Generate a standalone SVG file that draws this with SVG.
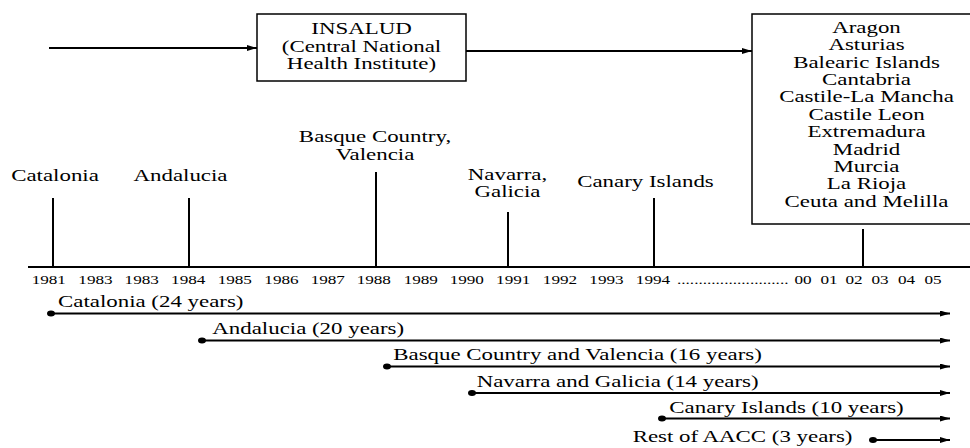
<svg xmlns="http://www.w3.org/2000/svg" width="970" height="448" viewBox="0 0 970 448">
<defs>
<style>
text{font-family:"Liberation Serif","Times New Roman",serif;fill:#000}
.t16{font-size:16px}
.t12{font-size:12px}
.m{text-anchor:middle}
.box{fill:#fff;stroke:#000;stroke-width:1.5}
.ln{stroke:#000;stroke-width:2;fill:none}
.ar{stroke:#000;stroke-width:2;fill:none;marker-end:url(#ah)}
</style>
<marker id="ah" markerUnits="userSpaceOnUse" markerWidth="10" markerHeight="7" refX="10" refY="3" orient="auto">
<path d="M0,0 L10,3 L0,6 Z" fill="#000"/>
</marker>
</defs>
<rect width="970" height="448" fill="#fff"/>

<g id="connectors">
<line class="ar" x1="49" y1="48" x2="257" y2="48"/>
<line class="ar" x1="466" y1="51" x2="752" y2="51"/>
<line class="ar" x1="51" y1="313.5" x2="950" y2="313.5"/>
<line class="ar" x1="202" y1="340.5" x2="950" y2="340.5"/>
<line class="ar" x1="387" y1="366.5" x2="950" y2="366.5"/>
<line class="ar" x1="472" y1="393" x2="950" y2="393"/>
<line class="ar" x1="662" y1="418.5" x2="950" y2="418.5"/>
<line class="ar" x1="873" y1="440" x2="950" y2="440"/>
<g fill="#000">
<ellipse cx="51" cy="313.5" rx="4" ry="3"/>
<ellipse cx="202" cy="340.5" rx="4" ry="3"/>
<ellipse cx="387" cy="366.5" rx="4" ry="3"/>
<ellipse cx="472" cy="393" rx="4" ry="3"/>
<ellipse cx="662" cy="418.5" rx="4" ry="3"/>
<ellipse cx="873" cy="440" rx="4" ry="3"/>
</g>
</g>

<g id="insalud">
<rect class="box" x="257" y="14" width="209" height="67"/>
<text class="t16 m" transform="translate(361.5,34.3) scale(1.43,1)">INSALUD</text>
<text class="t16 m" transform="translate(361.5,51.7) scale(1.43,1)">(Central National</text>
<text class="t16 m" transform="translate(361.5,69) scale(1.43,1)">Health Institute)</text>
</g>

<g id="rest-regions">
<rect class="box" x="752" y="14" width="230" height="210"/>
<g class="t16 m">
<text class="t16 m" transform="translate(866.5,33) scale(1.43,1)">Aragon</text>
<text class="t16 m" transform="translate(866.5,50.4) scale(1.43,1)">Asturias</text>
<text class="t16 m" transform="translate(866.5,67.7) scale(1.43,1)">Balearic Islands</text>
<text class="t16 m" transform="translate(866.5,85.1) scale(1.43,1)">Cantabria</text>
<text class="t16 m" transform="translate(866.5,102.4) scale(1.43,1)">Castile-La Mancha</text>
<text class="t16 m" transform="translate(866.5,119.8) scale(1.43,1)">Castile Leon</text>
<text class="t16 m" transform="translate(866.5,137.1) scale(1.43,1)">Extremadura</text>
<text class="t16 m" transform="translate(866.5,154.5) scale(1.43,1)">Madrid</text>
<text class="t16 m" transform="translate(866.5,171.8) scale(1.43,1)">Murcia</text>
<text class="t16 m" transform="translate(866.5,189.2) scale(1.43,1)">La Rioja</text>
<text class="t16 m" transform="translate(866.5,206.5) scale(1.43,1)">Ceuta and Melilla</text>
</g>
</g>

<g id="timeline">
<line class="ln" x1="28" y1="267" x2="970" y2="267"/>
<line class="ln" x1="53" y1="198" x2="53" y2="267"/>
<line class="ln" x1="189" y1="198" x2="189" y2="267"/>
<line class="ln" x1="376" y1="172" x2="376" y2="267"/>
<line class="ln" x1="508" y1="212" x2="508" y2="267"/>
<line class="ln" x1="654" y1="198" x2="654" y2="267"/>
<line class="ln" x1="863" y1="229" x2="863" y2="267"/>
</g>

<g id="event-labels">
<text class="t16 m" transform="translate(55,181) scale(1.43,1)">Catalonia</text>
<text class="t16 m" transform="translate(180.5,181) scale(1.43,1)">Andalucia</text>
<text class="t16 m" transform="translate(375,141.7) scale(1.43,1)">Basque Country,</text>
<text class="t16 m" transform="translate(375,159.5) scale(1.43,1)">Valencia</text>
<text class="t16 m" transform="translate(507.5,180) scale(1.43,1)">Navarra,</text>
<text class="t16 m" transform="translate(507.5,197) scale(1.43,1)">Galicia</text>
<text class="t16 m" transform="translate(645.5,186.5) scale(1.43,1)">Canary Islands</text>
</g>

<g id="years">
<text class="t12 m" transform="translate(48.8,283.5) scale(1.43,1)">1981</text>
<text class="t12 m" transform="translate(95.5,283.5) scale(1.43,1)">1983</text>
<text class="t12 m" transform="translate(141.7,283.5) scale(1.43,1)">1983</text>
<text class="t12 m" transform="translate(188.2,283.5) scale(1.43,1)">1984</text>
<text class="t12 m" transform="translate(234.8,283.5) scale(1.43,1)">1985</text>
<text class="t12 m" transform="translate(281.5,283.5) scale(1.43,1)">1986</text>
<text class="t12 m" transform="translate(327.8,283.5) scale(1.43,1)">1987</text>
<text class="t12 m" transform="translate(373.8,283.5) scale(1.43,1)">1988</text>
<text class="t12 m" transform="translate(420.8,283.5) scale(1.43,1)">1989</text>
<text class="t12 m" transform="translate(466.8,283.5) scale(1.43,1)">1990</text>
<text class="t12 m" transform="translate(513.2,283.5) scale(1.43,1)">1991</text>
<text class="t12 m" transform="translate(560,283.5) scale(1.43,1)">1992</text>
<text class="t12 m" transform="translate(606.5,283.5) scale(1.43,1)">1993</text>
<text class="t12 m" transform="translate(653,283.5) scale(1.43,1)">1994</text>
<text class="t12" transform="translate(677,283.5) scale(1.43,1)">..........................</text>
<text class="t12 m" transform="translate(803,283.5) scale(1.43,1)">00</text>
<text class="t12 m" transform="translate(829,283.5) scale(1.43,1)">01</text>
<text class="t12 m" transform="translate(854,283.5) scale(1.43,1)">02</text>
<text class="t12 m" transform="translate(880,283.5) scale(1.43,1)">03</text>
<text class="t12 m" transform="translate(906.5,283.5) scale(1.43,1)">04</text>
<text class="t12 m" transform="translate(933,283.5) scale(1.43,1)">05</text>
</g>

<g id="duration-labels">
<text class="t16" transform="translate(58,307.3) scale(1.43,1)">Catalonia (24 years)</text>
<text class="t16" transform="translate(212.3,334) scale(1.43,1)">Andalucia (20 years)</text>
<text class="t16" transform="translate(393.3,360.3) scale(1.43,1)">Basque Country and Valencia (16 years)</text>
<text class="t16" transform="translate(476.7,386.7) scale(1.43,1)">Navarra and Galicia (14 years)</text>
<text class="t16" transform="translate(669.3,412.7) scale(1.43,1)">Canary Islands (10 years)</text>
<text class="t16" transform="translate(632.7,442) scale(1.43,1)">Rest of AACC (3 years)</text>
</g>
</svg>
